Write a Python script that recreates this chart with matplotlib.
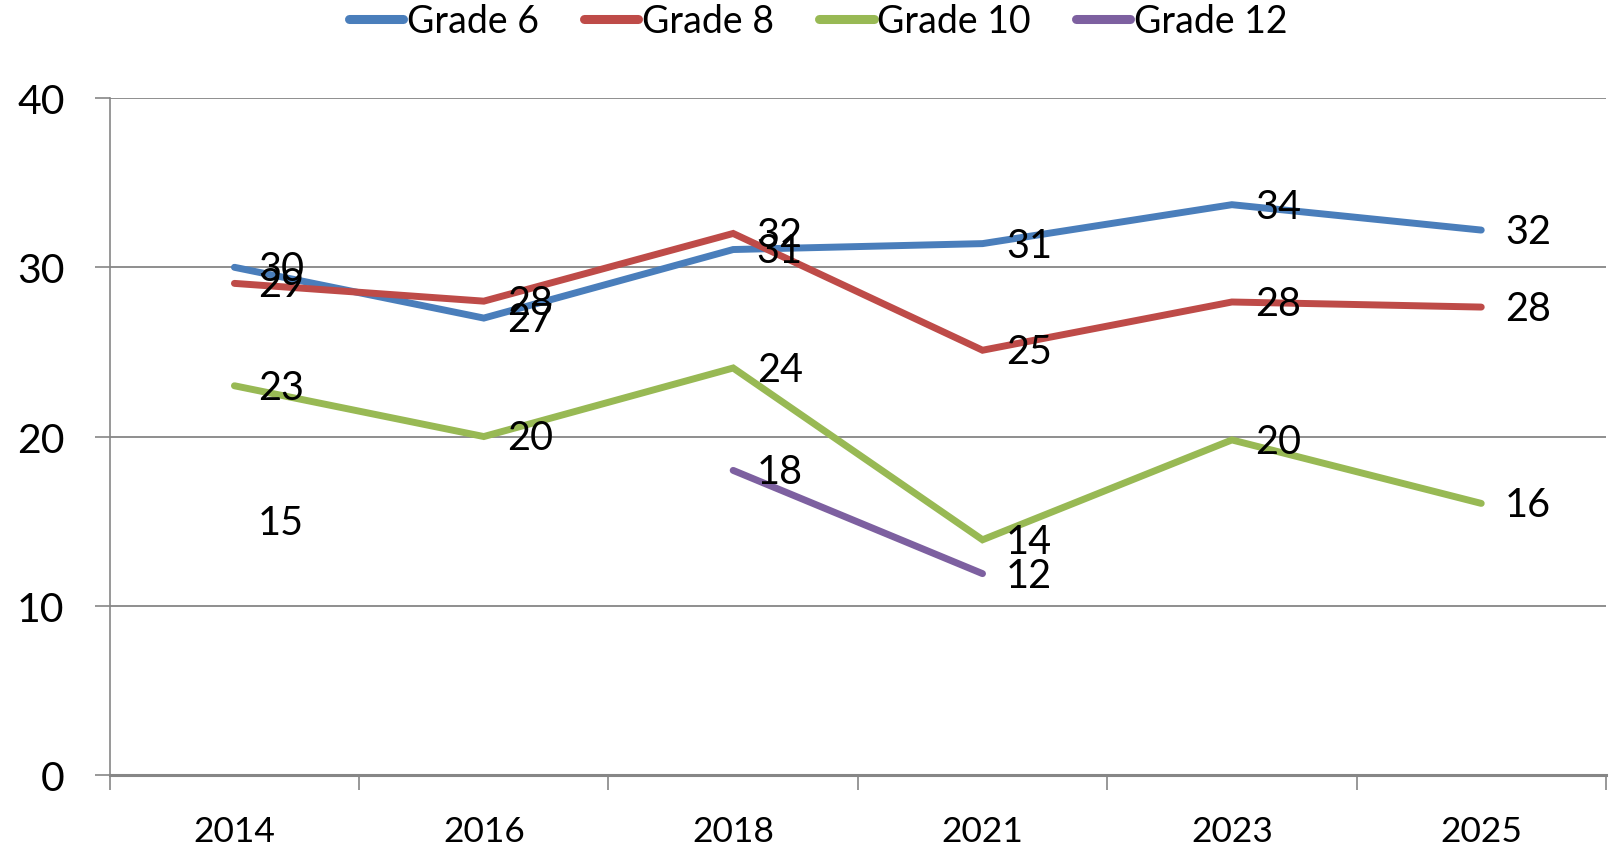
import numpy as np
import matplotlib
matplotlib.use("Agg")
import matplotlib.pyplot as plt
from matplotlib.lines import Line2D

years = ["2014", "2016", "2018", "2021", "2023", "2025"]
grade6 = [30.0, 27.0, 31.05, 31.4, 33.7, 32.2]
grade8 = [29.05, 28.0, 32.0, 25.1, 27.95, 27.65]
grade10 = [23.0, 20.0, 24.05, 13.9, 19.8, 16.05]
grade12 = [15.0, None, 18.0, 11.9, None, None]
series_names = ["Grade 6", "Grade 8", "Grade 10", "Grade 12"]
colors = ["#4A7EBB", "#BE4B48", "#98B954", "#7D60A0"]
yticks = [0, 10, 20, 30, 40]

FONT = ["Lato", "DejaVu Sans"]
plt.rcParams["font.family"] = FONT

fig = plt.figure(figsize=(16.14, 8.54), dpi=100)
ax = fig.add_axes([0.068, 0.0913, 0.927, 0.7927])

x = np.arange(len(years))
handles = []
for name, vals, col in zip(series_names, [grade6, grade8, grade10, grade12], colors):
    y = np.array([np.nan if v is None else v for v in vals], dtype=float)
    ax.plot(x, y, color=col, lw=5.0, solid_capstyle="round", solid_joinstyle="miter", zorder=3)
    handles.append(Line2D([0], [0], color=col, lw=6.5, solid_capstyle="round"))
    for xi, v in zip(x, vals):
        if v is None:
            continue
        ax.annotate(f"{round(v)}", (xi, v), xytext=(17, -1), textcoords="offset points",
                    ha="left", va="center", fontsize=28.5, color="black", zorder=4)

ax.set_xlim(-0.5, len(years) - 0.5)
ax.set_ylim(0, 40)
ax.set_yticks(yticks)
ax.set_yticklabels([str(t) for t in yticks], fontsize=29.5)
ax.set_xticks(x)
ax.set_xticklabels(years, fontsize=25.5)
ax.set_xticks(np.arange(-0.5, len(years)), minor=True)
ax.tick_params(axis="x", which="major", length=0, pad=29)
ax.tick_params(axis="x", which="minor", length=10.5, width=1.2, color="#868686", direction="out")
ax.tick_params(axis="y", which="major", length=10.5, width=1.2, color="#868686", direction="out", pad=22)

ax.grid(axis="y", color="#868686", lw=1.3, zorder=0)
for s in ["top", "right"]:
    ax.spines[s].set_visible(False)
ax.spines["left"].set_color("#868686")
ax.spines["left"].set_linewidth(1.2)
ax.spines["bottom"].set_color("#868686")
ax.spines["bottom"].set_linewidth(2.2)

fig.legend(handles, series_names, loc="upper center", bbox_to_anchor=(0.507, 1.035), ncol=4,
           frameon=False, fontsize=27, handlelength=1.45, handletextpad=0.1, columnspacing=1.2)

fig.savefig("out.png", dpi=100)
